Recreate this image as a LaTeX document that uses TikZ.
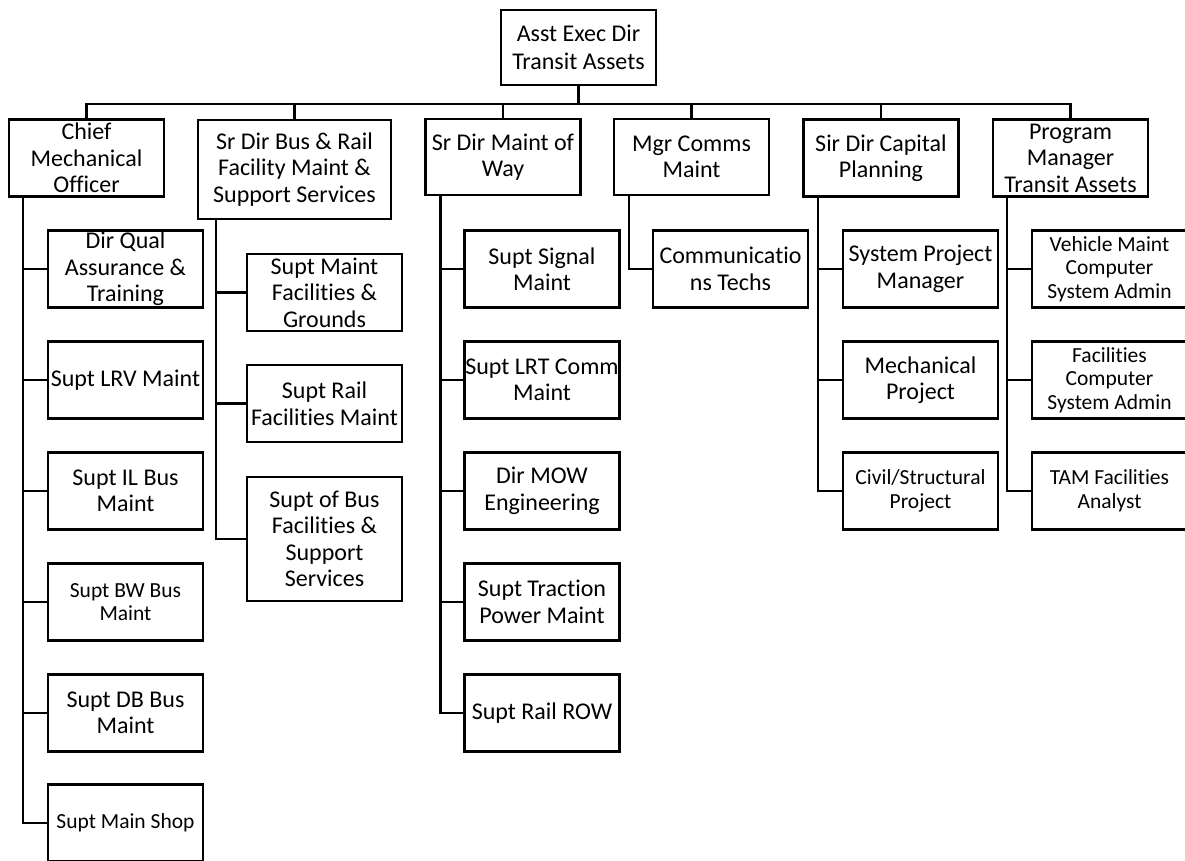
\documentclass[tikz,border=0pt]{standalone}
\usepackage{fontspec}
\setmainfont{Carlito}[Ligatures=NoCommon]

\begin{document}
\begin{tikzpicture}[x=1pt,y=-1pt,
  box/.style={draw,line width=2.4pt,align=center,inner sep=0pt,
    minimum width=155pt,minimum height=77pt,font=\fontsize{24}{26.5}\selectfont},
  sbox/.style={box,font=\fontsize{21.5}{23.5}\selectfont},
  link/.style={line width=2.4pt}]
  \useasboundingbox (0,0) rectangle (1185,860);
  \clip (0,0) rectangle (1185,860);
  \fill[white] (0,0) rectangle (1185,860);
  % top
  \node[box,minimum height=75pt,font=\fontsize{24}{28}\selectfont] (aed) at (578.5,47.5) {Asst Exec Dir\\Transit Assets};
  % heads
  \node[box] (cmo) at (86.5,158) {Chief\\Mechanical\\Officer};
  \node[box,minimum width=193pt,minimum height=99pt] (sdb) at (294.5,169.5) {Sr Dir Bus \& Rail\\Facility Maint \&\\Support Services};
  \node[box,minimum height=76pt] (mow) at (503,157) {Sr Dir Maint of\\Way};
  \node[box,minimum height=76pt] (mcm) at (691.5,157) {Mgr Comms\\Maint};
  \node[box] (sdc) at (881,158) {Sir Dir Capital\\Planning};
  \node[box] (pmt) at (1070.5,158) {Program\\Manager\\Transit Assets};
  % chief mechanical officer
  \node[box] (dqa) at (125.5,269) {Dir Qual\\Assurance \&\\Training};
  \node[box] (lrv) at (125.5,380) {Supt LRV Maint};
  \node[box] (ilb) at (125.5,491) {Supt IL Bus\\Maint};
  \node[sbox] (bwb) at (125.5,602) {Supt BW Bus\\Maint};
  \node[box] (dbb) at (125.5,713) {Supt DB Bus\\Maint};
  \node[sbox] (msh) at (125.5,823) {Supt Main Shop};
  % bus and rail facilities
  \node[box] (smf) at (324.5,292.5) {Supt Maint\\Facilities \&\\Grounds};
  \node[box] (srf) at (324.5,403.5) {Supt Rail\\Facilities Maint};
  \node[box,minimum height=124pt] (sbf) at (324.5,539) {Supt of Bus\\Facilities \&\\Support\\Services};
  % maint of way
  \node[box] (ssm) at (542,269) {Supt Signal\\Maint};
  \node[box] (slc) at (542,380) {Supt LRT Comm\\Maint};
  \node[box] (dme) at (542,491) {Dir MOW\\Engineering};
  \node[box] (stp) at (542,602) {Supt Traction\\Power Maint};
  \node[box] (srr) at (542,713) {Supt Rail ROW};
  % comms
  \node[box] (cte) at (730.5,269) {Communicatio\\ns Techs};
  % capital planning
  \node[box] (spm) at (920.5,269) {System Project\\Manager};
  \node[box] (mep) at (920.5,380) {Mechanical\\Project};
  \node[sbox] (csp) at (920.5,491) {Civil/Structural\\Project};
  % program manager
  \node[sbox] (vma) at (1109.5,269) {Vehicle Maint\\Computer\\System Admin};
  \node[sbox] (fca) at (1109.5,380) {Facilities\\Computer\\System Admin};
  \node[sbox] (tfa) at (1109.5,491) {TAM Facilities\\Analyst};
  % links
  \foreach \h in {cmo,sdb,mow,mcm,sdc,pmt}
    \draw[link] (aed.south) -- ++(0,18) -| (\h.north);
  \foreach \k in {dqa,lrv,ilb,bwb,dbb,msh}
    \draw[link] (cmo.south west) ++(15,0) |- (\k.west);
  \foreach \k in {smf,srf,sbf}
    \draw[link] (sdb.south west) ++(19,0) |- (\k.west);
  \foreach \k in {ssm,slc,dme,stp,srr}
    \draw[link] (mow.south west) ++(16,0) |- (\k.west);
  \draw[link] (mcm.south west) ++(16,0) |- (cte.west);
  \foreach \k in {spm,mep,csp}
    \draw[link] (sdc.south west) ++(15.5,0) |- (\k.west);
  \foreach \k in {vma,fca,tfa}
    \draw[link] (pmt.south west) ++(15,0) |- (\k.west);
\end{tikzpicture}
\end{document}
